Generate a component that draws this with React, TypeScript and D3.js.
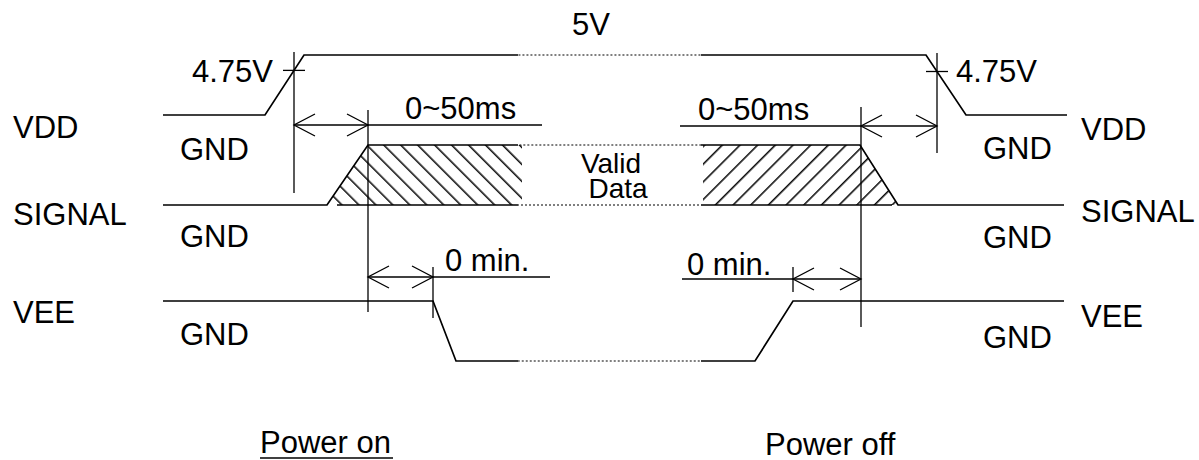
import React from "react";
import { scaleLinear, line } from "d3";

// Waveforms: [time, level], time in arbitrary units, level 0 = GND, 1 = high
const vddWave: [number, number][] = [[0, 0], [102, 0], [141, 1], [763, 1], [803, 0], [904, 0]];
const signalWave: [number, number][] = [[0, 0], [164, 0], [205, 1], [697, 1], [735, 0], [901, 0]];
const signalLowRail: [number, number][] = [[174, 0], [729, 0]];
const veeWave: [number, number][] = [[0, 1], [270, 1], [293, 0], [592, 0], [630, 1], [901, 1]];

// the middle part of the time axis is drawn dotted (time break)
const breakSpan = [355, 538];

// valid data hatch areas
const hatchOn: [number, number][] = [[164, 0], [205, 1], [359, 1], [359, 0]];
const hatchOff: [number, number][] = [[540, 1], [697, 1], [735, 0], [540, 0]];

// event times
const vddCross = [131, 774]; // 4.75V
const signalEdges = [205, 698];
const veeEdges = [270, 630];

const dims = [
  { label: "0~50ms", from: vddCross[0], to: signalEdges[0], ext: 379 },
  { label: "0~50ms", from: signalEdges[1], to: vddCross[1], ext: 517 },
  { label: "0 min.", from: signalEdges[0], to: veeEdges[0], ext: 387 },
  { label: "0 min.", from: veeEdges[1], to: signalEdges[1], ext: 519 },
];

const names = ["VDD", "SIGNAL", "VEE"];

// layout
const W = 1199;
const H = 460;
const rowTop = [55, 145, 301];
const ROW_H = 60;
const dimY = [125, 126, 277, 279];
const dimText = [
  [405, 119],
  [698, 120],
  [445, 271],
  [687, 275],
];
const nameLeftY = [138, 225, 323];
const nameRightY = [140, 222, 327];
const gndLeftY = [160, 247, 345];
const gndRightY = [159, 248, 348];
const FONT = "'Liberation Sans', Arial, sans-serif";

const x = scaleLinear().domain([0, 904]).range([163, 1067]);

const App = () => {
  const yOf = (row: number, lvl: number) => rowTop[row] + (1 - lvl) * ROW_H;
  const path = (row: number) =>
    line<[number, number]>()
      .x((d) => x(d[0]))
      .y((d) => yOf(row, d[1]));

  const bx0 = x(breakSpan[0]);
  const bx1 = x(breakSpan[1]);

  const waves: { row: number; pts: [number, number][] }[] = [
    { row: 0, pts: vddWave },
    { row: 1, pts: signalWave },
    { row: 1, pts: signalLowRail },
    { row: 2, pts: veeWave },
  ];

  // y on the VDD slope at time t
  const vddAt = (t: number) => {
    for (let i = 1; i < vddWave.length; i++) {
      const [t0, l0] = vddWave[i - 1];
      const [t1, l1] = vddWave[i];
      if (t >= t0 && t <= t1) {
        return yOf(0, l0 + ((l1 - l0) * (t - t0)) / (t1 - t0));
      }
    }
    return yOf(0, 0);
  };

  const arrowHead = (tip: number, y: number, dir: number, key: string) => (
    <polyline
      key={key}
      points={`${tip + dir * 21},${y - 11} ${tip},${y} ${tip + dir * 21},${y + 11}`}
      fill="none"
      stroke="#000"
      strokeWidth={1.3}
    />
  );

  const guides = [
    { t: vddCross[0], y0: 52, y1: 193 },
    { t: vddCross[1], y0: 53, y1: 153 },
    { t: signalEdges[0], y0: 110, y1: 312 },
    { t: signalEdges[1], y0: 107, y1: 327 },
    { t: veeEdges[0], y0: 267, y1: 318 },
    { t: veeEdges[1], y0: 267, y1: 292 },
  ];

  const txt = { fontFamily: FONT, fontSize: 31, fill: "#000" };

  return (
    <svg width={W} height={H} style={{ position: "absolute", left: 0, top: 0, background: "#fff" }}>
      <defs>
        <clipPath id="solid">
          <rect x={0} y={0} width={bx0} height={H} />
          <rect x={bx1} y={0} width={W - bx1} height={H} />
        </clipPath>
        <clipPath id="dotted">
          <rect x={bx0} y={0} width={bx1 - bx0} height={H} />
        </clipPath>
        <pattern id="hatchBack" width={12} height={12} patternUnits="userSpaceOnUse" patternTransform="rotate(-45)">
          <line x1={0.8} y1={0} x2={0.8} y2={12} stroke="#000" strokeWidth={1.5} />
        </pattern>
        <pattern id="hatchFwd" width={12.5} height={12.5} patternUnits="userSpaceOnUse" patternTransform="rotate(45)">
          <line x1={0.8} y1={0} x2={0.8} y2={12.5} stroke="#000" strokeWidth={1.5} />
        </pattern>
      </defs>

      {/* hatched valid data */}
      <path d={path(1)(hatchOn) + "Z"} fill="url(#hatchBack)" stroke="none" />
      <path d={path(1)(hatchOff) + "Z"} fill="url(#hatchFwd)" stroke="none" />

      {/* waveforms */}
      {waves.map((w, i) => (
        <g key={i}>
          <path d={path(w.row)(w.pts) ?? ""} fill="none" stroke="#000" strokeWidth={1.7} clipPath="url(#solid)" />
          <path
            d={path(w.row)(w.pts) ?? ""}
            fill="none"
            stroke="#000"
            strokeWidth={1.2}
            strokeDasharray="2 2"
            clipPath="url(#dotted)"
          />
        </g>
      ))}

      {/* vertical guides */}
      {guides.map((g, i) => (
        <line key={i} x1={x(g.t)} x2={x(g.t)} y1={g.y0} y2={g.y1} stroke="#000" strokeWidth={1.3} />
      ))}

      {/* 4.75V ticks */}
      {vddCross.map((t, i) => (
        <line key={i} x1={x(t) - 11} x2={x(t) + 11} y1={vddAt(t)} y2={vddAt(t)} stroke="#000" strokeWidth={1.3} />
      ))}

      {/* dimension arrows */}
      {dims.map((d, i) => {
        const y = dimY[i];
        const xa = x(d.from);
        const xb = x(d.to);
        const xe = x(d.ext);
        return (
          <g key={i}>
            <line x1={Math.min(xa, xe)} x2={Math.max(xb, xe)} y1={y} y2={y} stroke="#000" strokeWidth={1.3} />
            {arrowHead(xa, y, 1, "a")}
            {arrowHead(xb, y, -1, "b")}
            <text x={dimText[i][0]} y={dimText[i][1]} {...txt}>
              {d.label}
            </text>
          </g>
        );
      })}

      {/* voltage labels */}
      <text x={x(428)} y={35} textAnchor="middle" {...txt}>
        5V
      </text>
      <text x={x(110)} y={82} textAnchor="end" {...txt}>
        4.75V
      </text>
      <text x={x(793)} y={82} {...txt}>
        4.75V
      </text>
      <text x={611} y={173} textAnchor="middle" {...txt} fontSize={28}>
        Valid
      </text>
      <text x={618} y={198} textAnchor="middle" {...txt} fontSize={28}>
        Data
      </text>

      {/* signal names and GND */}
      {names.map((n, i) => (
        <g key={n}>
          <text x={13} y={nameLeftY[i]} {...txt}>
            {n}
          </text>
          <text x={1081} y={nameRightY[i]} {...txt}>
            {n}
          </text>
          <text x={180} y={gndLeftY[i]} {...txt}>
            GND
          </text>
          <text x={983} y={gndRightY[i]} {...txt}>
            GND
          </text>
        </g>
      ))}

      <text x={260} y={453} {...txt}>
        Power on
      </text>
      <line x1={260} x2={393} y1={458} y2={458} stroke="#000" strokeWidth={1.6} />
      <text x={765} y={455} {...txt}>
        Power off
      </text>
    </svg>
  );
};

export default App;
